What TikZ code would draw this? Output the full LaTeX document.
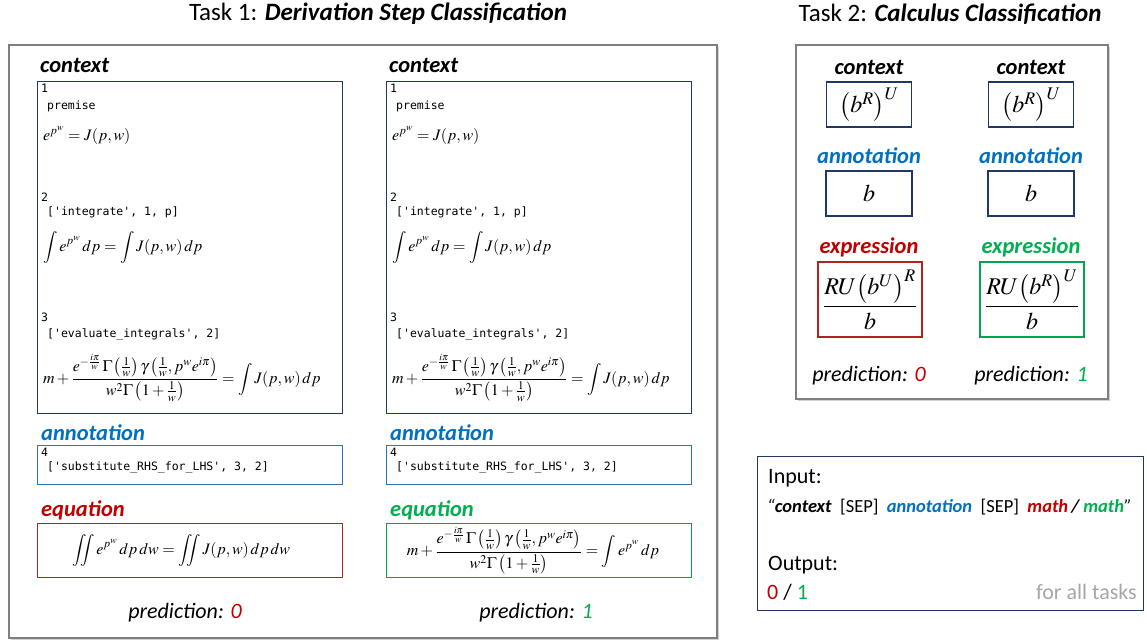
\documentclass[tikz,border=0pt]{standalone}
\usepackage{amsmath}
\usepackage{mathptmx}
\usepackage[no-math]{fontspec}
\setmainfont{Carlito}
\setmonofont{DejaVu Sans Mono}
\usetikzlibrary{positioning,shadows}
\definecolor{ctxblue}{HTML}{203864}
\definecolor{annblue}{HTML}{0070C0}
\definecolor{annframe}{HTML}{2E75B6}
\definecolor{badred}{HTML}{C00000}
\definecolor{badframe}{HTML}{B22222}
\definecolor{goodgreen}{HTML}{00B050}
\definecolor{goodframe}{HTML}{00A550}
\definecolor{panelgray}{HTML}{7F7F7F}
\tikzset{%
  every panel/.style={
    draw=panelgray,
    line width=1.8pt,
    fill=white,
    anchor=north west,
    drop shadow={shadow xshift=2pt, shadow yshift=-2pt, opacity=0.35}
  },
  title/.style={
    font=\fontsize{25}{30}\selectfont
  },
  label/.style={
    font=\fontsize{22.5}{27}\selectfont\bfseries\itshape,
    inner sep=0pt
  },
  code/.style={
    font=\fontsize{11.5}{14}\selectfont\ttfamily,
    inner sep=0pt,
    anchor=west
  },
  eq/.style={
    font=\fontsize{16}{19}\selectfont,
    inner sep=0pt
  },
  box/.style={
    draw=#1,
    line width=1.1pt,
    inner sep=0pt
  },
  pred/.style={
    font=\fontsize{22}{26}\selectfont\itshape
  },
  plain/.style={
    font=\fontsize{22}{26}\selectfont,
    inner sep=0pt
  },
  calc math/.style={
    font=\fontsize{24}{28}\selectfont
  },
}
\begin{document}
\begin{tikzpicture}[x=1pt, y=-1pt]
\useasboundingbox (0,0) rectangle (1147,642);

% Titles
\node [title] (title1) at (378,14) {Task 1: \textbf{\textit{Derivation Step Classification}}};
\node [title] (title2) at (950,14) {Task 2: \textbf{\textit{Calculus Classification}}};

% Panels
\node [every panel/.try, minimum width=708pt, minimum height=593pt] (task1) at (8,44) {};
\node [every panel/.try, minimum width=312pt, minimum height=354pt] (task2) at (795,44) {};

% Task 1: both derivations
\foreach \x/\c in {37/l, 386/r}
{
  \node [label, anchor=west] (ctxlbl-\c) at ({\x+3},65) {context};
  \node [box=ctxblue, anchor=north west, minimum width=305pt, minimum height=332pt] (ctx-\c) at (\x,81) {};
  \node [code] (no1-\c) at ({\x+4},88) {1};
  \node [code] (cmd1-\c) at ({\x+10},106) {premise};
  \node [eq, anchor=west] (eq1-\c) at ({\x+6},135) {$e^{p^w} = J(p, w)$};
  \node [code] (no2-\c) at ({\x+4},197) {2};
  \node [code] (cmd2-\c) at ({\x+10},212) {['integrate', 1, p]};
  \node [eq, anchor=west] (eq2-\c) at ({\x+6},247) {$\displaystyle\int e^{p^w}\,dp = \int J(p, w)\,dp$};
  \node [code] (no3-\c) at ({\x+4},317) {3};
  \node [code] (cmd3-\c) at ({\x+10},334) {['evaluate\_integrals', 2]};
  \node [eq, anchor=west] (eq3-\c) at ({\x+6},378)
    {$\displaystyle m + \frac{e^{-\frac{i\pi}{w}}\,\Gamma\left(\frac{1}{w}\right)\gamma\left(\frac{1}{w}, p^w e^{i\pi}\right)}{w^2\Gamma\left(1+\frac{1}{w}\right)} = \int J(p, w)\,dp$};

  \node [label, anchor=west, text=annblue] (annlbl-\c) at ({\x+4},433) {annotation};
  \node [box=annframe, anchor=north west, minimum width=305pt, minimum height=39pt] (ann-\c) at (\x,445) {};
  \node [code] (no4-\c) at ({\x+4},452) {4};
  \node [code] (cmd4-\c) at ({\x+10},467) {['substitute\_RHS\_for\_LHS', 3, 2]};
}

% Task 1: equations to classify
\node [label, anchor=west, text=badred] (eqlbl-l) at (41,510) {equation};
\node [box=badframe, anchor=north west, minimum width=305pt, minimum height=54pt] (eqbox-l) at (37,523) {};
\node [eq] (eq-l) at ([xshift=-9pt]eqbox-l.center) {$\displaystyle\iint e^{p^w}\,dp\,dw = \iint J(p, w)\,dp\,dw$};
\node [pred] (pred-l) at (185,613) {prediction: \textcolor{badred}{0}};

\node [label, anchor=west, text=goodgreen] (eqlbl-r) at (390,510) {equation};
\node [box=goodframe, anchor=north west, minimum width=305pt, minimum height=54pt] (eqbox-r) at (386,523) {};
\node [eq] (eq-r) at ([xshift=-6pt]eqbox-r.center)
  {$\displaystyle m + \frac{e^{-\frac{i\pi}{w}}\,\Gamma\left(\frac{1}{w}\right)\gamma\left(\frac{1}{w}, p^w e^{i\pi}\right)}{w^2\Gamma\left(1+\frac{1}{w}\right)} = \int e^{p^w}\,dp$};
\node [pred] (pred-r) at (536,613) {prediction: \textcolor{goodgreen}{1}};

% Task 2: both expressions
\foreach \x/\c/\col/\frm/\a/\b/\p in {869/l/badred/badframe/U/R/0, 1031/r/goodgreen/goodframe/R/U/1}
{
  \node [label] (cctx-\c) at (\x,67) {context};
  \node [box=ctxblue, minimum width=85pt, minimum height=45pt, calc math] (cctxbox-\c) at (\x,104.5) {$\bigl(b^R\bigr)^U$};
  \node [label, text=annblue] (cann-\c) at (\x,156) {annotation};
  \node [box=ctxblue, minimum width=86pt, minimum height=45pt, calc math] (cannbox-\c) at (\x,193.5) {$b$};
  \node [label, text=\col] (cexp-\c) at (\x,247) {expression};
  \node [box=\frm, minimum width=104pt, minimum height=75pt, calc math] (cexpbox-\c) at ({\x+1},299.5) {$\dfrac{RU\bigl(b^\a\bigr)^\b}{b}$};
  \node [pred] (cpred-\c) at (\x,376) {prediction: \textcolor{\col}{\p}};
}

% Input / output format
\node [box=ctxblue, anchor=north west, minimum width=386pt, minimum height=154pt] (io) at (757,456) {};
\node [plain, anchor=west] (inlbl) at (768,478) {Input:};
\node [plain, anchor=west, font=\fontsize{18.5}{22}\selectfont] (inseq) at (767,507)
  {\textit{``}\textbf{\textit{context}}\ \ [SEP]\ \ \textcolor{annblue}{\textbf{\textit{annotation}}}\ \ [SEP]\ \ \textcolor{badred}{\textbf{\textit{math}}}\,\textbf{\textit{/}}\,\textcolor{goodgreen}{\textbf{\textit{math}}}\textit{''}};
\node [plain, anchor=west] (outlbl) at (768,565) {Output:};
\node [plain, anchor=west] (outval) at (767,592) {\textcolor{badred}{0} / \textcolor{goodgreen}{1}};
\node [plain, anchor=east, text=gray!70] (alltasks) at (1137,592) {for all tasks};

\end{tikzpicture}
\end{document}
